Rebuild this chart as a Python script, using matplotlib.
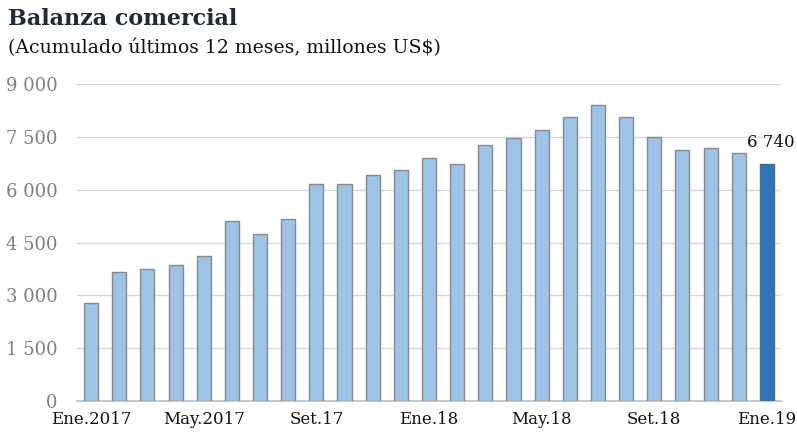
import matplotlib
matplotlib.use("Agg")
import matplotlib.pyplot as plt
from matplotlib.ticker import FuncFormatter

# valori (millones US$, acumulado 12 meses)
months = ["Ene.2017", "Feb", "Mar", "Abr", "May.2017", "Jun", "Jul", "Ago",
          "Set.17", "Oct", "Nov", "Dic", "Ene.18", "Feb", "Mar", "Abr",
          "May.18", "Jun", "Jul", "Ago", "Set.18", "Oct", "Nov", "Dic", "Ene.19"]
values = [2780, 3650, 3760, 3850, 4130, 5100, 4730, 5170,
          6150, 6150, 6410, 6560, 6910, 6720, 7280, 7470,
          7680, 8050, 8400, 8050, 7500, 7120, 7190, 7040, 6740]
tick_pos = [0, 4, 8, 12, 16, 20, 24]
yticks = [0, 1500, 3000, 4500, 6000, 7500, 9000]

plt.rcParams["font.family"] = ["DejaVu Serif"]


def fmt_miles(v, pos=None):
    return f"{int(v):,}".replace(",", " ")


fig = plt.figure(figsize=(7.97, 4.37), dpi=100)
ax = fig.add_axes([77 / 797, 1 - 401 / 437, (781 - 77) / 797, (401 - 84) / 437])

x = list(range(len(values)))
colors = ["#9dc3e6"] * (len(values) - 1) + ["#2e75b6"]
edges = ["#8a8a8a"] * (len(values) - 1) + ["#4a6a8a"]
ax.bar(x, values, width=0.5, color=colors, edgecolor=edges, linewidth=1.0, zorder=3)

ax.set_xlim(-0.5, len(values) - 0.5)
ax.set_ylim(0, 9000)
ax.set_yticks(yticks)
ax.yaxis.set_major_formatter(FuncFormatter(fmt_miles))
ax.grid(axis="y", color="#d9d9d9", linewidth=1.0, zorder=0)
ax.set_xticks(tick_pos)
ax.set_xticklabels([months[i] for i in tick_pos])

for s in ["top", "right", "left"]:
    ax.spines[s].set_visible(False)
ax.spines["bottom"].set_color("#bfbfbf")
ax.spines["bottom"].set_linewidth(1.2)
ax.tick_params(axis="both", length=0)
ax.tick_params(axis="y", labelsize=13, labelcolor="#7f7f7f", pad=14)
ax.tick_params(axis="x", labelsize=12, labelcolor="#111111", pad=7)

# etichetta ultimo valore
last = len(values) - 1
ax.annotate(fmt_miles(values[last]), (last, values[last]),
            xytext=(3, 9), textcoords="offset points", ha="center", va="bottom",
            fontsize=12, color="#111111")

fig.text(8 / 797, 1 - 19 / 437, "Balanza comercial", fontsize=16, fontweight="bold",
         color="#1f2937", va="center")
fig.text(8 / 797, 1 - 48 / 437, "(Acumulado últimos 12 meses, millones US$)", fontsize=13.6,
         color="#111111", va="center")

fig.savefig("out.png", dpi=100)
